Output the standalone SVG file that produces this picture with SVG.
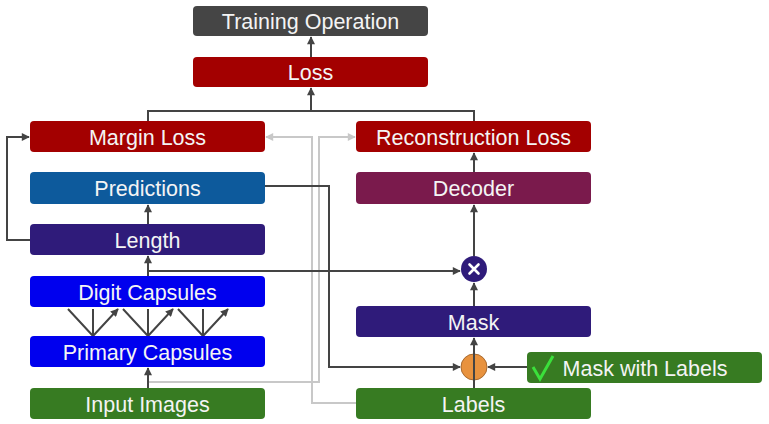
<svg xmlns="http://www.w3.org/2000/svg" width="769" height="424" viewBox="0 0 769 424">
<style>
.n rect{stroke:none}
.t{font-family:"Liberation Sans",Arial,sans-serif;font-size:21.5px;fill:#f4f4f4;text-anchor:middle}
.c{fill:none;stroke:#444;stroke-width:2}
.g{fill:none;stroke:#c8c8c8;stroke-width:2}
</style>
<defs>
<marker id="a" viewBox="0 0 10 10" refX="9" refY="5" markerWidth="9" markerHeight="8" markerUnits="userSpaceOnUse" orient="auto"><path d="M0,0L10,5L0,10z" fill="#444"/></marker>
<marker id="ag" viewBox="0 0 10 10" refX="9" refY="5" markerWidth="9" markerHeight="8" markerUnits="userSpaceOnUse" orient="auto"><path d="M0,0L10,5L0,10z" fill="#c8c8c8"/></marker>
</defs>
<rect width="769" height="424" fill="#fff"/>
<g id="connectors">
<path class="g" d="M356,403H312V137H266" marker-end="url(#ag)"/>
<path class="g" d="M148,382H319V137H355" marker-end="url(#ag)"/>
<path class="c" d="M311,57V37" marker-end="url(#a)"/>
<path class="c" d="M148,121V111H474V121M311,111V88" marker-end="url(#a)"/>
<path class="c" d="M30,240H7V137H29" marker-end="url(#a)"/>
<path class="c" d="M148,224V205" marker-end="url(#a)"/>
<path class="c" d="M148,276V256" marker-end="url(#a)"/>
<path class="c" d="M148,271H460" marker-end="url(#a)"/>
<path class="c" d="M265,186H329V367H460" marker-end="url(#a)"/>
<path class="c" d="M474,172V153" marker-end="url(#a)"/>
<path class="c" d="M474,256V205" marker-end="url(#a)"/>
<path class="c" d="M474,306V283" marker-end="url(#a)"/>
<path class="c" d="M148,388V368" marker-end="url(#a)"/>
<path class="c" d="M527,367H488" marker-end="url(#a)"/>
<g marker-end="url(#a)">
<path class="c" d="M93,336L68,309M93,336V309M93,336L118,309"/>
<path class="c" d="M148,336L123,309M148,336V309M148,336L173,309"/>
<path class="c" d="M203,336L178,309M203,336V309M203,336L228,309"/>
</g>
</g>
<g id="training-operation" class="n"><rect x="193" y="6" width="235" height="30" rx="4" fill="#454545"/><text class="t" x="310.5" y="28.5">Training Operation</text></g>
<g id="loss" class="n"><rect x="193" y="57" width="235" height="30" rx="4" fill="#a30000"/><text class="t" x="310.5" y="79.5">Loss</text></g>
<g id="margin-loss" class="n"><rect x="30" y="121" width="235" height="31" rx="4" fill="#a30000"/><text class="t" x="147.5" y="144.5">Margin Loss</text></g>
<g id="reconstruction-loss" class="n"><rect x="356" y="121" width="235" height="31" rx="4" fill="#a30000"/><text class="t" x="473.5" y="144.5">Reconstruction Loss</text></g>
<g id="predictions" class="n"><rect x="30" y="172" width="235" height="32" rx="4" fill="#0d5a9c"/><text class="t" x="147.5" y="195.5">Predictions</text></g>
<g id="decoder" class="n"><rect x="356" y="172" width="235" height="32" rx="4" fill="#7a1a4c"/><text class="t" x="473.5" y="195.5">Decoder</text></g>
<g id="length" class="n"><rect x="30" y="224" width="235" height="31" rx="4" fill="#2f1b7a"/><text class="t" x="147.5" y="247.5">Length</text></g>
<g id="multiply" class="n"><circle cx="474" cy="269" r="13" fill="#2f1b7a"/><path d="M469.5,264.5l9,9M478.5,264.5l-9,9" stroke="#fff" stroke-width="2.6" stroke-linecap="round"/></g>
<g id="digit-capsules" class="n"><rect x="30" y="276" width="235" height="31" rx="4" fill="#0000ee"/><text class="t" x="147.5" y="299.5">Digit Capsules</text></g>
<g id="mask" class="n"><rect x="356" y="306" width="235" height="31" rx="4" fill="#2f1b7a"/><text class="t" x="473.5" y="329.5">Mask</text></g>
<g id="primary-capsules" class="n"><rect x="30" y="336" width="235" height="31" rx="4" fill="#0000ee"/><text class="t" x="147.5" y="359.5">Primary Capsules</text></g>
<g id="mask-switch" class="n"><circle cx="474" cy="367" r="13" fill="#e8923e" stroke="#a86a30" stroke-width="1"/><path d="M474,388V338" class="c" marker-end="url(#a)"/></g>
<g id="mask-with-labels" class="n"><rect x="527" y="352" width="235" height="31" rx="4" fill="#377b22"/><path d="M533,367l7,12l13,-23" fill="none" stroke="#3be03b" stroke-width="3"/><text class="t" x="645" y="375.5">Mask with Labels</text></g>
<g id="input-images" class="n"><rect x="30" y="388" width="235" height="31" rx="4" fill="#377b22"/><text class="t" x="147.5" y="411.5">Input Images</text></g>
<g id="labels" class="n"><rect x="356" y="388" width="235" height="31" rx="4" fill="#377b22"/><text class="t" x="473.5" y="411.5">Labels</text></g>
</svg>
